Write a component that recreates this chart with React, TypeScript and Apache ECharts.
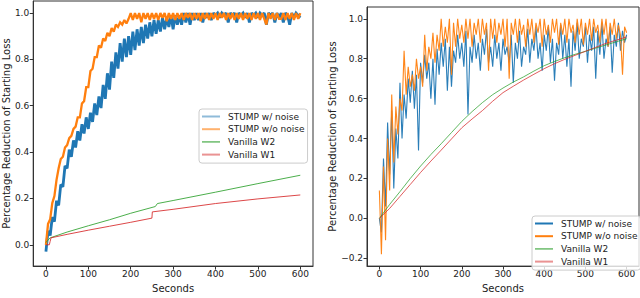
import React, { useEffect, useRef } from "react";
import * as echarts from "echarts";

const FONT = "DejaVu Sans";
const SERIES_NAMES = ["STUMP w/ noise", "STUMP w/o noise", "Vanilla W2", "Vanilla W1"];
const COLORS = ["#1f77b4", "#ff7f0e", "#2ca02c", "#d62728"];
const X_TICKS = [0, 100, 200, 300, 400, 500, 600];
const Y_TICKS_LEFT = [0, 0.2, 0.4, 0.6, 0.8, 1.0];
const Y_TICKS_RIGHT = [-0.2, 0, 0.2, 0.4, 0.6, 0.8, 1.0];

// sample times (seconds) for the noisy STUMP runs, one reading every 5 s
const SAMPLE_SECONDS = Array.from({ length: 121 }, (_, i) => i * 5);

// Left panel
const leftNoise = [
  -0.03, 0.06, 0.04, 0.12, 0.10, 0.19, 0.17, 0.26, 0.25, 0.34,
  0.33, 0.41, 0.38, 0.45, 0.42, 0.49, 0.45, 0.52, 0.48, 0.55,
  0.50, 0.57, 0.53, 0.61, 0.56, 0.64, 0.59, 0.69, 0.63, 0.74,
  0.67, 0.79, 0.72, 0.83, 0.76, 0.87, 0.79, 0.89, 0.81, 0.90,
  0.82, 0.92, 0.84, 0.93, 0.86, 0.94, 0.87, 0.95, 0.89, 0.96,
  0.90, 0.97, 0.91, 0.97, 0.92, 0.98, 0.93, 0.98, 0.94, 0.99,
  0.93, 0.99, 0.95, 0.99, 0.95, 1.0, 0.96, 1.0, 0.95, 1.0,
  0.97, 1.0, 0.97, 1.0, 0.96, 1.0, 0.98, 1.0, 0.97, 1.0,
  0.99, 1.0, 0.98, 1.0, 0.99, 1.0, 0.96, 1.0, 0.99, 1.0,
  0.96, 1.0, 0.99, 1.0, 0.98, 1.0, 0.96, 1.0, 0.99, 1.0,
  0.98, 1.0, 0.99, 1.0, 0.95, 1.0, 0.99, 1.0, 0.96, 1.0,
  0.98, 1.0, 0.96, 1.0, 0.99, 0.95, 1.0, 0.98, 1.0, 0.99,
  0.98,
];
const leftNoNoise = [
  0.0, 0.09, 0.11, 0.18, 0.21, 0.28, 0.33, 0.37, 0.38, 0.42,
  0.43, 0.46, 0.47, 0.50, 0.51, 0.55, 0.55, 0.61, 0.62, 0.68,
  0.68, 0.75, 0.76, 0.81, 0.81, 0.86, 0.85, 0.89, 0.88, 0.915,
  0.90, 0.935, 0.92, 0.95, 0.94, 0.96, 0.95, 0.97, 0.955, 0.975,
  1.0,
  0.97, 1.0, 0.975, 1.0, 0.96, 1.0, 0.975, 1.0, 0.97, 1.0,
  0.975, 1.0, 0.97, 1.0, 0.98, 1.0, 0.965, 1.0, 0.975, 1.0,
  0.97, 1.0, 0.975, 1.0, 0.97, 1.0, 0.98, 1.0, 0.97, 1.0,
  0.975, 1.0, 0.965, 1.0, 0.975, 1.0, 0.97, 1.0, 0.975, 1.0,
  0.97, 1.0, 0.98, 1.0, 0.97, 1.0, 0.975, 1.0, 0.97, 1.0,
  0.975, 1.0, 0.97, 1.0, 0.975, 1.0, 0.97, 1.0, 0.975, 1.0,
  0.97, 1.0, 0.975, 0.95, 1.0, 0.975, 1.0, 0.97, 1.0, 0.975,
  0.975, 1.0, 0.97, 1.0, 0.975, 1.0, 0.97, 1.0, 0.975, 1.0,
];
const leftW2: [number, number][] = [
  [0, 0.01], [10, 0.03], [50, 0.055], [100, 0.082], [150, 0.108], [200, 0.136],
  [258, 0.165], [263, 0.178], [300, 0.191], [400, 0.227], [500, 0.264], [600, 0.30],
];
const leftW1: [number, number][] = [
  [0, 0.0], [8, 0.0], [10, 0.015], [12, 0.03], [50, 0.045], [100, 0.063],
  [150, 0.08], [200, 0.097], [250, 0.115], [251, 0.142], [300, 0.153],
  [400, 0.178], [500, 0.198], [600, 0.215],
];

// Right panel
const rightNoise = [
  0.0, -0.07, 0.30, 0.06, 0.48, 0.22, 0.54, 0.15, 0.45, 0.30,
  0.68, 0.40, 0.62, 0.50, 0.70, 0.58, 0.74, 0.55, 0.72, 0.34,
  0.78, 0.68, 0.82, 0.70, 0.78, 0.60, 0.80, 0.57, 0.85, 0.72,
  0.88, 0.76, 0.90, 0.64, 0.86, 0.66, 0.84, 0.78, 0.92, 0.80,
  0.88, 0.76, 0.94, 0.52, 0.86, 0.78, 0.92, 0.80, 0.88, 0.74,
  0.90, 0.82, 0.95, 0.78, 0.86, 0.76, 0.92, 0.80, 0.88, 0.74,
  0.90, 0.82, 0.86, 0.78, 0.92, 0.68, 0.88, 0.80, 0.94, 0.76,
  0.86, 0.82, 0.95, 0.78, 0.90, 0.84, 0.96, 0.80, 0.88, 0.74,
  0.92, 0.84, 0.96, 0.78, 0.90, 0.69, 0.88, 0.82, 0.97, 0.80,
  0.92, 0.76, 0.90, 0.66, 0.94, 0.84, 0.98, 0.80, 0.90, 0.86,
  0.96, 0.78, 0.92, 0.84, 0.96, 0.70, 0.94, 0.82, 0.98, 0.80,
  0.90, 0.86, 0.96, 0.73, 0.92, 0.86, 0.98, 0.84, 0.94, 0.88,
  0.92,
];
const rightNoNoise = [
  0.14, -0.18, 0.26, -0.11, 0.40, 0.14, 0.62, 0.28, 0.56, 0.42,
  0.60, 0.54, 0.84, 0.62, 0.76, 0.66, 0.72, 0.64, 0.80, 0.70,
  0.76, 0.66, 0.92, 0.74, 0.86, 0.80, 0.93, 0.78, 0.92, 0.84,
  1.0, 0.86, 0.96, 0.88, 1.0, 0.72, 0.98, 0.86, 1.0, 0.90,
  0.97, 0.88, 1.0, 0.90, 1.0, 0.86, 0.98, 0.92, 1.0, 0.88,
  1.0, 0.92, 0.98, 0.74, 1.0, 0.90, 1.0, 0.88, 0.98, 0.92,
  1.0, 0.86, 1.0, 0.70, 0.98, 0.92, 1.0, 0.88, 1.0, 0.92,
  0.97, 0.86, 1.0, 0.92, 1.0, 0.88, 0.98, 0.93, 1.0, 0.86,
  1.0, 0.92, 0.97, 0.88, 1.0, 0.93, 1.0, 0.87, 0.98, 0.92,
  1.0, 0.88, 1.0, 0.93, 0.97, 0.88, 1.0, 0.92, 1.0, 0.87,
  0.98, 0.92, 1.0, 0.89, 1.0, 0.93, 0.97, 0.88, 1.0, 0.92,
  1.0, 0.86, 0.98, 0.92, 1.0, 0.90, 0.97, 0.92, 0.72, 0.96,
  0.93,
];
const rightW2: [number, number][] = [
  [0, 0], [25, 0.07], [50, 0.134], [75, 0.2], [100, 0.262], [125, 0.32],
  [150, 0.374], [175, 0.43], [200, 0.486], [225, 0.535], [250, 0.58],
  [275, 0.62], [300, 0.653], [325, 0.683], [350, 0.709], [375, 0.738],
  [400, 0.765], [425, 0.786], [450, 0.805], [475, 0.822], [500, 0.837],
  [525, 0.853], [550, 0.869], [575, 0.885], [600, 0.90],
];
const rightW1: [number, number][] = [
  [0, 0], [25, 0.05], [50, 0.11], [75, 0.17], [100, 0.23], [125, 0.287],
  [150, 0.342], [175, 0.398], [200, 0.454], [225, 0.498], [250, 0.54],
  [275, 0.587], [300, 0.63], [325, 0.662], [350, 0.693], [375, 0.722],
  [400, 0.75], [425, 0.775], [450, 0.797], [475, 0.817], [500, 0.837],
  [525, 0.857], [550, 0.877], [575, 0.893], [600, 0.909],
];

const pair = (vals: number[]) => vals.map((v, i) => [SAMPLE_SECONDS[i], v]);

const fmtY = (v: number) => (v < 0 ? "\u2212" + Math.abs(v).toFixed(1) : v.toFixed(1));

function xAxisFor(gridIndex: number) {
  return {
    type: "value",
    gridIndex,
    min: -30,
    max: 630,
    axisLine: { show: true, onZero: false, lineStyle: { color: "#333", width: 1 } },
    axisTick: { show: true, length: 3.5, customValues: X_TICKS, lineStyle: { color: "#333" } },
    axisLabel: { customValues: X_TICKS, fontSize: 9, color: "#222", margin: 3, fontFamily: FONT },
    splitLine: { show: false },
    name: "Seconds",
    nameLocation: "middle",
    nameGap: 13,
    nameTextStyle: { fontSize: 10, color: "#222", fontFamily: FONT },
  };
}

function yAxisFor(gridIndex: number, min: number, max: number, ticks: number[], gap: number) {
  return {
    type: "value",
    gridIndex,
    min,
    max,
    axisLine: { show: true, onZero: false, lineStyle: { color: "#333", width: 1 } },
    axisTick: { show: true, length: 3.5, customValues: ticks, lineStyle: { color: "#333" } },
    axisLabel: { customValues: ticks, fontSize: 9, color: "#222", margin: 4, fontFamily: FONT, formatter: fmtY },
    splitLine: { show: false },
    name: "Percentage Reduction of Starting Loss",
    nameLocation: "middle",
    nameGap: gap,
    nameTextStyle: { fontSize: 10, color: "#222", fontFamily: FONT },
  };
}

function lineSeries(name: string, color: string, data: any[], axis: number, width: number, opacity: number) {
  return {
    type: "line",
    name,
    xAxisIndex: axis,
    yAxisIndex: axis,
    data,
    symbol: "none",
    showSymbol: false,
    lineStyle: { color, width, opacity, join: "miter", miterLimit: 2 },
    itemStyle: { color },
    emphasis: { disabled: true },
  };
}

function legendFor(left: number, top: number, opacities: number[], thick: number[]) {
  return {
    orient: "vertical",
    left,
    top,
    padding: [3, 3, 4, 3],
    itemWidth: 18,
    itemHeight: 10,
    itemGap: 3.7,
    selectedMode: false,
    backgroundColor: "rgba(255,255,255,0.8)",
    borderColor: "#cccccc",
    borderWidth: 1,
    borderRadius: 3,
    textStyle: { fontSize: 9, color: "#222", fontFamily: FONT, padding: [0, 0, 0, 3] },
    data: SERIES_NAMES.map((n, i) => ({
      name: n,
      icon: `path://M0,0L18,0L18,${thick[i]}L0,${thick[i]}Z`,
      itemStyle: { color: COLORS[i], opacity: opacities[i] },
    })),
  };
}

export default function App() {
  const ref = useRef<HTMLDivElement>(null);
  useEffect(() => {
    if (!ref.current) return;
    const chart = echarts.init(ref.current, undefined, { renderer: "svg" });
    chart.setOption({
      animation: false,
      grid: [
        { left: 31, top: 1, width: 282, height: 275, show: true, borderColor: "#333", borderWidth: 1, backgroundColor: "transparent" },
        { left: 367, top: 7, width: 272, height: 270, show: true, borderColor: "#333", borderWidth: 1, backgroundColor: "transparent" },
      ],
      xAxis: [xAxisFor(0), xAxisFor(1)],
      yAxis: [
        yAxisFor(0, -0.092, 1.052, Y_TICKS_LEFT, 19),
        yAxisFor(1, -0.239, 1.059, Y_TICKS_RIGHT, 27),
      ],
      legend: [
        legendFor(199, 109, [0.5, 0.6, 0.7, 0.5], [2, 2, 1.5, 2]),
        legendFor(532, 216, [1, 1, 0.7, 0.5], [2, 2, 1.5, 2]),
      ],
      series: [
        lineSeries(SERIES_NAMES[0], COLORS[0], pair(leftNoise), 0, 2.8, 1),
        lineSeries(SERIES_NAMES[1], COLORS[1], pair(leftNoNoise), 0, 2.3, 1),
        lineSeries(SERIES_NAMES[2], COLORS[2], leftW2, 0, 1, 0.85),
        lineSeries(SERIES_NAMES[3], COLORS[3], leftW1, 0, 1, 0.85),
        lineSeries(SERIES_NAMES[0], COLORS[0], pair(rightNoise), 1, 1.1, 0.95),
        lineSeries(SERIES_NAMES[1], COLORS[1], pair(rightNoNoise), 1, 1.1, 0.95),
        lineSeries(SERIES_NAMES[2], COLORS[2], rightW2, 1, 1, 0.75),
        lineSeries(SERIES_NAMES[3], COLORS[3], rightW1, 1, 1, 0.75),
      ],
    });
    return () => chart.dispose();
  }, []);
  return (
    <div
      ref={ref}
      style={{ position: "fixed", left: 0, top: 0, width: 640, height: 298, background: "#fff" }}
    />
  );
}
